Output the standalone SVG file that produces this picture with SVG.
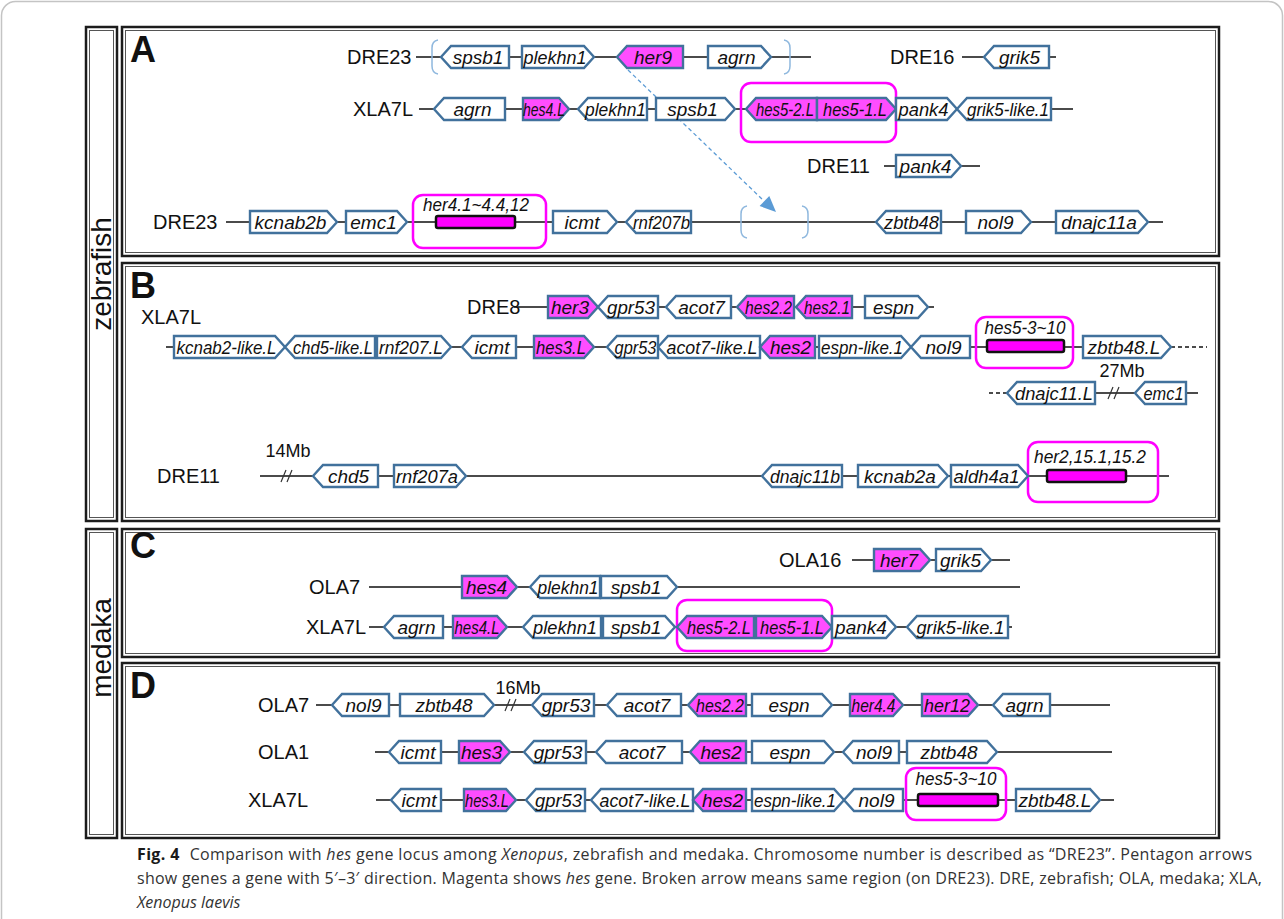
<svg xmlns="http://www.w3.org/2000/svg" width="1284" height="919" viewBox="0 0 1284 919">
<style>
.g{fill:#fff;stroke:#41719c;stroke-width:2.4}
.h{fill:#ff4dff;stroke:#41719c;stroke-width:2.4}
.t{font-family:"Liberation Sans",Arial,sans-serif;font-style:italic;font-size:19px;text-anchor:middle;fill:#111}
.c{font-family:"Liberation Sans",Arial,sans-serif;font-size:20px;fill:#111}
.s{font-family:"Liberation Sans",Arial,sans-serif;font-size:18px;fill:#111;text-anchor:middle}
.L{font-family:"Liberation Sans",Arial,sans-serif;font-size:36px;font-weight:bold;fill:#111}
.sp{font-family:"Liberation Sans",Arial,sans-serif;font-size:28px;fill:#111;text-anchor:middle}
.chr{stroke:#111;stroke-width:1.5;fill:none}
.dsh{stroke:#111;stroke-width:1.5;fill:none;stroke-dasharray:4 3}
.sl{stroke:#333;stroke-width:1.2;fill:none}
.mb{fill:none;stroke:#ff00ff;stroke-width:2.5}
.bar{fill:#ff00ff;stroke:#111;stroke-width:2.5}
.bx{fill:none;stroke:#1c1c1c;stroke-width:2.5}
.bi{fill:none;stroke:#555;stroke-width:1}
.br{fill:none;stroke:#8fb8de;stroke-width:1.5}
.cap{font-family:"Open Sans","Noto Sans",sans-serif;font-size:16px;fill:#333}
</style>
<rect x="1.5" y="1.5" width="1281" height="1000" rx="14" fill="none" stroke="#c4c4c4" stroke-width="1.5"/>
<g id="frames">
<rect class="bx" x="86" y="27" width="31" height="494"/><rect class="bi" x="89.5" y="30.5" width="24" height="487"/>
<rect class="bx" x="86" y="529" width="31" height="309"/><rect class="bi" x="89.5" y="532.5" width="24" height="302"/>
<rect class="bx" x="122" y="27" width="1097" height="229"/><rect class="bi" x="125.5" y="30.5" width="1090" height="222"/>
<rect class="bx" x="122" y="263" width="1097" height="258"/><rect class="bi" x="125.5" y="266.5" width="1090" height="251"/>
<rect class="bx" x="122" y="529" width="1097" height="128"/><rect class="bi" x="125.5" y="532.5" width="1090" height="121"/>
<rect class="bx" x="122" y="663" width="1097" height="175"/><rect class="bi" x="125.5" y="666.5" width="1090" height="168"/>
<text class="sp" transform="translate(111,274) rotate(-90)">zebrafish</text>
<text class="sp" transform="translate(111,648) rotate(-90)">medaka</text>
<text class="L" x="130" y="62">A</text>
<text class="L" x="130" y="298">B</text>
<text class="L" x="130" y="558">C</text>
<text class="L" x="130" y="698">D</text>
</g>
<g id="labels">
<text class="c" x="347" y="64">DRE23</text>
<text class="c" x="890" y="64">DRE16</text>
<text class="c" x="353" y="116">XLA7L</text>
<text class="c" x="807" y="173">DRE11</text>
<text class="c" x="153" y="229">DRE23</text>
<text class="c" x="467" y="314">DRE8</text>
<text class="c" x="141" y="324">XLA7L</text>
<text class="s" x="1122" y="377">27Mb</text>
<text class="c" x="157" y="483">DRE11</text>
<text class="s" x="288" y="457">14Mb</text>
<text class="c" x="779" y="567">OLA16</text>
<text class="c" x="309" y="594">OLA7</text>
<text class="c" x="306" y="634">XLA7L</text>
<text class="c" x="258" y="712">OLA7</text>
<text class="c" x="258" y="759">OLA1</text>
<text class="c" x="248" y="807">XLA7L</text>
<text class="s" x="518" y="694">16Mb</text>
</g>
<g id="connectors">
<path class="chr" d="M416 57H811M962 57H1056M419 109H1073M884 166H980M226 222H1163"/>
<path class="chr" d="M514 307H934M166 347H1171M1095 393H1198M260 476H1169"/>
<path class="dsh" d="M1171 347H1207M989 393H1007"/>
<path class="chr" d="M852 560H1010M369 587H1020M369 627H1012"/>
<path class="chr" d="M316 705H1110M375 752H1112M376 800H1114"/>
<path class="sl" d="M1108 399L1113 387M1114 399L1119 387M281 482L286 470M287 482L292 470M505 711L510 699M511 711L516 699"/>
<path class="br" d="M438 40Q432 41 432 48L432 66Q432 73 438 74M784 40Q790 41 790 48L790 66Q790 73 784 74M747 206Q741 207 741 214L741 230Q741 237 747 238M802 206Q808 207 808 214L808 230Q808 237 802 238"/>
<path d="M628 70L764 201" stroke="#5b9bd5" stroke-width="1.3" stroke-dasharray="4 3" fill="none"/>
<polygon points="776,212 759.6,206 769.3,195.9" fill="#5b9bd5"/>
</g>
<g id="hesboxes">
<rect class="mb" x="741" y="83" width="155" height="59" rx="10"/>
<rect class="mb" x="413" y="195" width="133" height="53" rx="10"/>
<text class="t" x="476" y="211" textLength="106" lengthAdjust="spacingAndGlyphs">her4.1~4.4,12</text>
<rect class="bar" x="436" y="216" width="79" height="12" rx="2"/>
<rect class="mb" x="976" y="317" width="97" height="51" rx="10"/>
<text class="t" x="1025" y="334" textLength="81" lengthAdjust="spacingAndGlyphs">hes5-3~10</text>
<rect class="bar" x="987" y="340" width="77" height="12" rx="2"/>
<rect class="mb" x="1028" y="442" width="130" height="60" rx="10"/>
<text class="t" x="1090" y="463" textLength="112" lengthAdjust="spacingAndGlyphs">her2,15.1,15.2</text>
<rect class="bar" x="1047" y="470" width="79" height="12" rx="2"/>
<rect class="mb" x="677" y="600" width="155" height="51" rx="10"/>
<rect class="mb" x="906" y="768" width="100" height="52" rx="10"/>
<text class="t" x="956" y="785" textLength="81" lengthAdjust="spacingAndGlyphs">hes5-3~10</text>
<rect class="bar" x="918" y="794" width="80" height="12" rx="2"/>
</g>
<g id="A1"><polygon class="g" points="441,57 451,46 509,46 509,68 451,68"/><text class="t" x="478" y="64">spsb1</text></g>
<g id="A2"><polygon class="g" points="522,46 584,46 594,57 584,68 522,68"/><text class="t" x="555" y="64" textLength="63" lengthAdjust="spacingAndGlyphs">plekhn1</text></g>
<g id="A3"><polygon class="h" points="617,57 627,46 683,46 683,68 627,68"/><text class="t" x="653" y="64">her9</text></g>
<g id="A4"><polygon class="g" points="708,46 761,46 771,57 761,68 708,68"/><text class="t" x="736.5" y="64">agrn</text></g>
<g id="A5"><polygon class="g" points="984,57 994,46 1049,46 1049,68 994,68"/><text class="t" x="1019.5" y="64">grik5</text></g>
<g id="A6"><polygon class="g" points="434,109 444,98 505,98 505,120 444,120"/><text class="t" x="472.5" y="116">agrn</text></g>
<g id="A7"><polygon class="h" points="523,98 559,98 569,109 559,120 523,120"/><text class="t" x="544" y="116" textLength="42" lengthAdjust="spacingAndGlyphs">hes4.L</text></g>
<g id="A8"><polygon class="g" points="578,109 588,98 647,98 647,120 588,120"/><text class="t" x="615.5" y="116" textLength="61" lengthAdjust="spacingAndGlyphs">plekhn1</text></g>
<g id="A9"><polygon class="g" points="656,98 725,98 735,109 725,120 656,120"/><text class="t" x="692.5" y="116">spsb1</text></g>
<g id="A10"><polygon class="h" points="746,109 756,98 817,98 817,120 756,120"/><text class="t" x="785" y="116" textLength="58" lengthAdjust="spacingAndGlyphs">hes5-2.L</text></g>
<g id="A11"><polygon class="h" points="817,98 886,98 896,109 886,120 817,120"/><text class="t" x="855" y="116" textLength="64" lengthAdjust="spacingAndGlyphs">hes5-1.L</text></g>
<g id="A12"><polygon class="g" points="896,98 947,98 957,109 947,120 896,120"/><text class="t" x="923.5" y="116" textLength="50" lengthAdjust="spacingAndGlyphs">pank4</text></g>
<g id="A13"><polygon class="g" points="957,109 967,98 1051,98 1051,120 967,120"/><text class="t" x="1008" y="116" textLength="82" lengthAdjust="spacingAndGlyphs">grik5-like.1</text></g>
<g id="A14"><polygon class="g" points="896,155 951,155 961,166 951,177 896,177"/><text class="t" x="925.5" y="173">pank4</text></g>
<g id="A15"><polygon class="g" points="250,211 327,211 337,222 327,233 250,233"/><text class="t" x="290.5" y="229">kcnab2b</text></g>
<g id="A16"><polygon class="g" points="346,211 397,211 407,222 397,233 346,233"/><text class="t" x="373.5" y="229">emc1</text></g>
<g id="A17"><polygon class="g" points="553,211 607,211 617,222 607,233 553,233"/><text class="t" x="582" y="229">icmt</text></g>
<g id="A18"><polygon class="g" points="626,222 636,211 691,211 691,233 636,233"/><text class="t" x="661.5" y="229" textLength="57" lengthAdjust="spacingAndGlyphs">rnf207b</text></g>
<g id="A19"><polygon class="g" points="876,222 886,211 941,211 941,233 886,233"/><text class="t" x="911.5" y="229" textLength="55" lengthAdjust="spacingAndGlyphs">zbtb48</text></g>
<g id="A20"><polygon class="g" points="966,211 1021,211 1031,222 1021,233 966,233"/><text class="t" x="995.5" y="229">nol9</text></g>
<g id="A21"><polygon class="g" points="1056,211 1138,211 1148,222 1138,233 1056,233"/><text class="t" x="1099" y="229">dnajc11a</text></g>
<g id="B1"><polygon class="h" points="548,296 588,296 598,307 588,318 548,318"/><text class="t" x="570" y="314">her3</text></g>
<g id="B2"><polygon class="g" points="598,307 608,296 658,296 658,318 608,318"/><text class="t" x="631" y="314" textLength="48" lengthAdjust="spacingAndGlyphs">gpr53</text></g>
<g id="B3"><polygon class="g" points="666,307 676,296 731,296 731,318 676,318"/><text class="t" x="701.5" y="314">acot7</text></g>
<g id="B4"><polygon class="h" points="737,307 747,296 794,296 794,318 747,318"/><text class="t" x="768.5" y="314" textLength="47" lengthAdjust="spacingAndGlyphs">hes2.2</text></g>
<g id="B5"><polygon class="h" points="796,307 806,296 852,296 852,318 806,318"/><text class="t" x="827" y="314" textLength="46" lengthAdjust="spacingAndGlyphs">hes2.1</text></g>
<g id="B6"><polygon class="g" points="865,296 918,296 928,307 918,318 865,318"/><text class="t" x="893.5" y="314">espn</text></g>
<g id="B7"><polygon class="g" points="174,336 275,336 285,347 275,358 174,358"/><text class="t" x="226.5" y="354" textLength="100" lengthAdjust="spacingAndGlyphs">kcnab2-like.L</text></g>
<g id="B8"><polygon class="g" points="285,347 295,336 375,336 375,358 295,358"/><text class="t" x="333" y="354" textLength="80" lengthAdjust="spacingAndGlyphs">chd5-like.L</text></g>
<g id="B9"><polygon class="g" points="377,336 441,336 451,347 441,358 377,358"/><text class="t" x="411" y="354" textLength="64" lengthAdjust="spacingAndGlyphs">rnf207.L</text></g>
<g id="B10"><polygon class="g" points="462,347 472,336 516,336 516,358 472,358"/><text class="t" x="492" y="354">icmt</text></g>
<g id="B11"><polygon class="h" points="534,336 584,336 594,347 584,358 534,358"/><text class="t" x="561" y="354" textLength="50" lengthAdjust="spacingAndGlyphs">hes3.L</text></g>
<g id="B12"><polygon class="g" points="607,347 617,336 658,336 658,358 617,358"/><text class="t" x="635.5" y="354" textLength="42" lengthAdjust="spacingAndGlyphs">gpr53</text></g>
<g id="B13"><polygon class="g" points="658,347 668,336 760,336 760,358 668,358"/><text class="t" x="712" y="354" textLength="91" lengthAdjust="spacingAndGlyphs">acot7-like.L</text></g>
<g id="B14"><polygon class="h" points="760,347 770,336 815,336 815,358 770,358"/><text class="t" x="790.5" y="354">hes2</text></g>
<g id="B15"><polygon class="g" points="819,336 901,336 911,347 901,358 819,358"/><text class="t" x="862" y="354" textLength="82" lengthAdjust="spacingAndGlyphs">espn-like.1</text></g>
<g id="B16"><polygon class="g" points="911,347 921,336 970,336 970,358 921,358"/><text class="t" x="943.5" y="354">nol9</text></g>
<g id="B17"><polygon class="g" points="1083,336 1161,336 1171,347 1161,358 1083,358"/><text class="t" x="1124" y="354">zbtb48.L</text></g>
<g id="B18"><polygon class="g" points="1007,393 1017,382 1095,382 1095,404 1017,404"/><text class="t" x="1054" y="400" textLength="78" lengthAdjust="spacingAndGlyphs">dnajc11.L</text></g>
<g id="B19"><polygon class="g" points="1135,393 1145,382 1186,382 1186,404 1145,404"/><text class="t" x="1163.5" y="400" textLength="40" lengthAdjust="spacingAndGlyphs">emc1</text></g>
<g id="B20"><polygon class="g" points="313,476 323,465 378,465 378,487 323,487"/><text class="t" x="348.5" y="483">chd5</text></g>
<g id="B21"><polygon class="g" points="394,465 456,465 466,476 456,487 394,487"/><text class="t" x="427" y="483" textLength="62" lengthAdjust="spacingAndGlyphs">rnf207a</text></g>
<g id="B22"><polygon class="g" points="762,476 772,465 842,465 842,487 772,487"/><text class="t" x="805" y="483" textLength="70" lengthAdjust="spacingAndGlyphs">dnajc11b</text></g>
<g id="B23"><polygon class="g" points="858,465 938,465 948,476 938,487 858,487"/><text class="t" x="900" y="483">kcnab2a</text></g>
<g id="B24"><polygon class="g" points="951,465 1018,465 1028,476 1018,487 951,487"/><text class="t" x="986.5" y="483" textLength="66" lengthAdjust="spacingAndGlyphs">aldh4a1</text></g>
<g id="C1"><polygon class="h" points="874,549 920,549 930,560 920,571 874,571"/><text class="t" x="899" y="567">her7</text></g>
<g id="C2"><polygon class="g" points="936,549 981,549 991,560 981,571 936,571"/><text class="t" x="960.5" y="567">grik5</text></g>
<g id="C3"><polygon class="h" points="462,576 507,576 517,587 507,598 462,598"/><text class="t" x="486.5" y="594">hes4</text></g>
<g id="C4"><polygon class="g" points="530,587 540,576 600,576 600,598 540,598"/><text class="t" x="568" y="594" textLength="61" lengthAdjust="spacingAndGlyphs">plekhn1</text></g>
<g id="C5"><polygon class="g" points="601,576 667,576 677,587 667,598 601,598"/><text class="t" x="636" y="594">spsb1</text></g>
<g id="C6"><polygon class="g" points="384,627 394,616 443,616 443,638 394,638"/><text class="t" x="416.5" y="634">agrn</text></g>
<g id="C7"><polygon class="h" points="453,616 497,616 507,627 497,638 453,638"/><text class="t" x="477" y="634" textLength="45" lengthAdjust="spacingAndGlyphs">hes4.L</text></g>
<g id="C8"><polygon class="g" points="523,627 533,616 601,616 601,638 533,638"/><text class="t" x="565" y="634" textLength="64" lengthAdjust="spacingAndGlyphs">plekhn1</text></g>
<g id="C9"><polygon class="g" points="603,616 665,616 675,627 665,638 603,638"/><text class="t" x="636" y="634">spsb1</text></g>
<g id="C10"><polygon class="h" points="677,627 687,616 754,616 754,638 687,638"/><text class="t" x="719" y="634" textLength="64" lengthAdjust="spacingAndGlyphs">hes5-2.L</text></g>
<g id="C11"><polygon class="h" points="756,616 822,616 832,627 822,638 756,638"/><text class="t" x="792" y="634" textLength="64" lengthAdjust="spacingAndGlyphs">hes5-1.L</text></g>
<g id="C12"><polygon class="g" points="832,616 886,616 896,627 886,638 832,638"/><text class="t" x="861" y="634">pank4</text></g>
<g id="C13"><polygon class="g" points="907,627 917,616 1008,616 1008,638 917,638"/><text class="t" x="960.5" y="634" textLength="88" lengthAdjust="spacingAndGlyphs">grik5-like.1</text></g>
<g id="D1"><polygon class="g" points="332,705 342,694 389,694 389,716 342,716"/><text class="t" x="363.5" y="712">nol9</text></g>
<g id="D2"><polygon class="g" points="400,694 484,694 494,705 484,716 400,716"/><text class="t" x="444" y="712">zbtb48</text></g>
<g id="D3"><polygon class="g" points="532,705 542,694 594,694 594,716 542,716"/><text class="t" x="566" y="712">gpr53</text></g>
<g id="D4"><polygon class="g" points="607,705 617,694 681,694 681,716 617,716"/><text class="t" x="647" y="712">acot7</text></g>
<g id="D5"><polygon class="h" points="688,705 698,694 746,694 746,716 698,716"/><text class="t" x="720" y="712" textLength="48" lengthAdjust="spacingAndGlyphs">hes2.2</text></g>
<g id="D6"><polygon class="g" points="752,694 822,694 832,705 822,716 752,716"/><text class="t" x="789" y="712">espn</text></g>
<g id="D7"><polygon class="h" points="850,694 893,694 903,705 893,716 850,716"/><text class="t" x="873.5" y="712" textLength="44" lengthAdjust="spacingAndGlyphs">her4.4</text></g>
<g id="D8"><polygon class="h" points="922,694 968,694 978,705 968,716 922,716"/><text class="t" x="947" y="712" textLength="46" lengthAdjust="spacingAndGlyphs">her12</text></g>
<g id="D9"><polygon class="g" points="993,705 1003,694 1050,694 1050,716 1003,716"/><text class="t" x="1024.5" y="712">agrn</text></g>
<g id="D10"><polygon class="g" points="389,752 399,741 441,741 441,763 399,763"/><text class="t" x="418" y="759">icmt</text></g>
<g id="D11"><polygon class="h" points="459,741 500,741 510,752 500,763 459,763"/><text class="t" x="481.5" y="759">hes3</text></g>
<g id="D12"><polygon class="g" points="524,752 534,741 586,741 586,763 534,763"/><text class="t" x="558" y="759">gpr53</text></g>
<g id="D13"><polygon class="g" points="596,752 606,741 682,741 682,763 606,763"/><text class="t" x="642" y="759">acot7</text></g>
<g id="D14"><polygon class="h" points="690,752 700,741 746,741 746,763 700,763"/><text class="t" x="721" y="759">hes2</text></g>
<g id="D15"><polygon class="g" points="752,741 824,741 834,752 824,763 752,763"/><text class="t" x="790" y="759">espn</text></g>
<g id="D16"><polygon class="g" points="843,752 853,741 899,741 899,763 853,763"/><text class="t" x="874" y="759">nol9</text></g>
<g id="D17"><polygon class="g" points="907,741 987,741 997,752 987,763 907,763"/><text class="t" x="949" y="759">zbtb48</text></g>
<g id="D18"><polygon class="g" points="391,800 401,789 441,789 441,811 401,811"/><text class="t" x="419" y="807">icmt</text></g>
<g id="D19"><polygon class="h" points="464,789 506,789 516,800 506,811 464,811"/><text class="t" x="487" y="807" textLength="44" lengthAdjust="spacingAndGlyphs">hes3.L</text></g>
<g id="D20"><polygon class="g" points="526,800 536,789 585,789 585,811 536,811"/><text class="t" x="558.5" y="807" textLength="47" lengthAdjust="spacingAndGlyphs">gpr53</text></g>
<g id="D21"><polygon class="g" points="591,800 601,789 693,789 693,811 601,811"/><text class="t" x="645" y="807" textLength="91" lengthAdjust="spacingAndGlyphs">acot7-like.L</text></g>
<g id="D22"><polygon class="h" points="693,800 703,789 746,789 746,811 703,811"/><text class="t" x="722.5" y="807">hes2</text></g>
<g id="D23"><polygon class="g" points="752,789 834,789 844,800 834,811 752,811"/><text class="t" x="795" y="807" textLength="82" lengthAdjust="spacingAndGlyphs">espn-like.1</text></g>
<g id="D24"><polygon class="g" points="844,800 854,789 903,789 903,811 854,811"/><text class="t" x="876.5" y="807">nol9</text></g>
<g id="D25"><polygon class="g" points="1016,789 1090,789 1100,800 1090,811 1016,811"/><text class="t" x="1055" y="807">zbtb48.L</text></g>
<g id="caption">
<text class="cap" x="137" y="860" textLength="1115" lengthAdjust="spacing"><tspan font-weight="bold" fill="#1a1a1a">Fig. 4</tspan><tspan dx="10">Comparison with </tspan><tspan font-style="italic">hes</tspan> gene locus among <tspan font-style="italic">Xenopus</tspan>, zebrafish and medaka. Chromosome number is described as “DRE23”. Pentagon arrows</text>
<text class="cap" x="137" y="884" textLength="1125" lengthAdjust="spacing">show genes a gene with 5′–3′ direction. Magenta shows <tspan font-style="italic">hes</tspan> gene. Broken arrow means same region (on DRE23). DRE, zebrafish; OLA, medaka; XLA,</text>
<text class="cap" x="137" y="908" font-style="italic">Xenopus laevis</text>
</g>
</svg>
